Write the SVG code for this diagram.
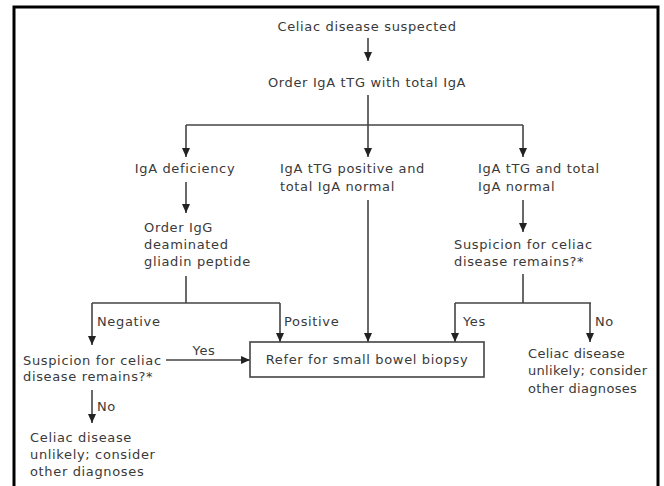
<svg xmlns="http://www.w3.org/2000/svg" width="664" height="486" viewBox="0 0 664 486">
<defs>
<style>
text{font-family:"DejaVu Sans","Open Sans",sans-serif;font-size:13px;letter-spacing:0.65px;fill:#3a3a3a;}
.c{text-anchor:middle;}
.t{letter-spacing:0.3px;}
.ln{stroke:#444;stroke-width:1.6;fill:none;}
.ar{stroke:#444;stroke-width:1.6;fill:none;marker-end:url(#ah);}
</style>
<marker id="ah" markerWidth="10" markerHeight="10" refX="9" refY="5" orient="auto" markerUnits="userSpaceOnUse">
<path d="M0,1 L9,5 L0,9 Z" fill="#222"/>
</marker>
</defs>
<rect x="0" y="0" width="664" height="486" fill="#fff"/>
<rect x="14" y="7" width="644" height="500" fill="none" stroke="#000" stroke-width="3"/>
<g id="connectors">
<line class="ar" x1="368" y1="38" x2="368" y2="61"/>
<line class="ln" x1="368" y1="95" x2="368" y2="125"/>
<polyline class="ln" points="186,125 523,125"/>
<line class="ar" x1="186" y1="125" x2="186" y2="157"/>
<line class="ar" x1="368" y1="125" x2="368" y2="157"/>
<line class="ar" x1="523" y1="125" x2="523" y2="157"/>
<line class="ar" x1="186" y1="182" x2="186" y2="213"/>
<line class="ln" x1="186" y1="276" x2="186" y2="303"/>
<polyline class="ln" points="92,303 280,303"/>
<line class="ar" x1="92" y1="303" x2="92" y2="345"/>
<line class="ar" x1="280" y1="303" x2="280" y2="342"/>
<line class="ar" x1="368" y1="200" x2="368" y2="342"/>
<line class="ar" x1="523" y1="200" x2="523" y2="232"/>
<line class="ln" x1="523" y1="274" x2="523" y2="303"/>
<polyline class="ln" points="455,303 591,303"/>
<line class="ar" x1="455" y1="303" x2="455" y2="342"/>
<line class="ar" x1="590" y1="303" x2="590" y2="342"/>
<line class="ar" x1="166" y1="360" x2="250" y2="360"/>
<line class="ar" x1="92" y1="390" x2="92" y2="423"/>
<text x="97" y="326">Negative</text>
<text x="284" y="326">Positive</text>
<text x="463" y="326">Yes</text>
<text x="595" y="326">No</text>
<text class="c" x="204" y="355">Yes</text>
<text x="97" y="411">No</text>
</g>
<g id="n1"><text class="c" x="367" y="31">Celiac disease suspected</text></g>
<g id="n2"><text class="c" x="367" y="87">Order IgA tTG with total IgA</text></g>
<g id="n3"><text class="c" x="185" y="173">IgA deficiency</text></g>
<g id="n4"><text x="280" y="173">IgA tTG positive and</text><text x="280" y="191">total IgA normal</text></g>
<g id="n5"><text x="478" y="173">IgA tTG and total</text><text x="478" y="191">IgA normal</text></g>
<g id="n6"><text x="144" y="232">Order IgG</text><text x="144" y="249">deaminated</text><text x="144" y="266">gliadin peptide</text></g>
<g id="n7"><text x="454" y="249">Suspicion for celiac</text><text x="454" y="266">disease remains?*</text></g>
<g id="n8"><rect x="250" y="342" width="234" height="35" fill="#fff" stroke="#444" stroke-width="1.6"/><text class="c" x="367" y="364">Refer for small bowel biopsy</text></g>
<g id="n9"><text x="23" y="365">Suspicion for celiac</text><text x="23" y="381">disease remains?*</text></g>
<g id="n10"><text class="t" x="528" y="358">Celiac disease</text><text class="t" x="528" y="375">unlikely; consider</text><text class="t" x="528" y="393">other diagnoses</text></g>
<g id="n11"><text x="30" y="442">Celiac disease</text><text x="30" y="459">unlikely; consider</text><text x="30" y="476">other diagnoses</text></g>
</svg>
